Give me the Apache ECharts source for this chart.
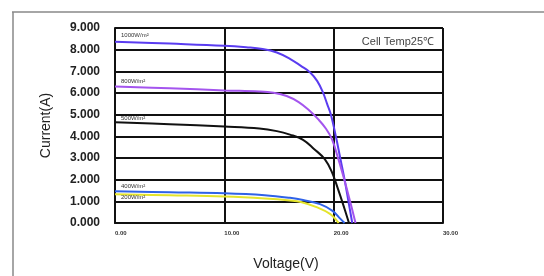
<!DOCTYPE html>
<html>
<head>
<meta charset="utf-8">
<script src="https://cdn.jsdelivr.net/npm/echarts@6/dist/echarts.min.js"></script>
<style>html,body{margin:0;padding:0;background:#fff;}#c{width:544px;height:276px;}</style>
</head>
<body>
<div id="c"></div>
<script>
// Voltage (V) / Current (A)
const v1000 = [0, 5, 10, 12, 13.5, 14.8, 16.0, 17.0, 17.85, 18.5, 19.0, 19.4, 19.75, 20.2, 20.6, 21.0, 21.35, 21.7];
const i1000 = [8.37, 8.28, 8.18, 8.11, 8.03, 7.87, 7.58, 7.25, 6.95, 6.55, 6.05, 5.5, 5.0, 4.0, 3.0, 2.0, 1.0, 0];
const v800 = [0, 5, 10, 13.2, 14.5, 15.7, 16.8, 17.8, 18.6, 19.3, 19.85, 20.4, 21.0, 21.5, 22.0];
const i800 = [6.30, 6.22, 6.12, 6.07, 6.01, 5.86, 5.58, 5.18, 4.78, 4.35, 3.86, 3.0, 1.95, 1.0, 0];
const v500 = [0, 5, 10, 13.2, 14.8, 16.0, 17.2, 18.2, 19.2, 19.85, 20.4, 20.9, 21.4];
const i500 = [4.65, 4.56, 4.45, 4.36, 4.24, 4.08, 3.84, 3.42, 2.94, 2.34, 1.56, 0.8, 0];
const v400 = [0, 5, 10, 13.7, 16.0, 17.2, 18.75, 19.9, 20.6, 21.0];
const i400 = [1.47, 1.42, 1.37, 1.28, 1.16, 1.06, 0.87, 0.56, 0.2, 0];
const v200 = [0, 5, 10, 13.7, 16.0, 17.0, 18.5, 19.7, 20.3, 20.45];
const i200 = [1.33, 1.28, 1.22, 1.13, 1.04, 0.97, 0.72, 0.41, 0.1, 0];

const seriesNames = ['1000W/m²', '800W/m²', '500W/m²', '400W/m²', '200W/m²'];
const seriesColors = ['#5a3cf0', '#a455ee', '#111111', '#2f62e8', '#e4e42c'];
const labelDy = [-6, -5, -4, -5, 3];
const xTicks = ['0.00', '10.00', '20.00', '30.00'];
const yTicks = ['0.000', '1.000', '2.000', '3.000', '4.000', '5.000', '6.000', '7.000', '8.000', '9.000'];

const volts = [v1000, v800, v500, v400, v200];
const amps = [i1000, i800, i500, i400, i200];

const series = volts.map((vs, k) => ({
  type: 'line',
  name: seriesNames[k],
  smooth: 0.4,
  showSymbol: true,
  symbol: 'circle',
  symbolSize: 0,
  lineStyle: { color: seriesColors[k], width: 2 },
  itemStyle: { color: seriesColors[k] },
  z: 5,
  data: vs.map((v, j) => j === 0 ? {
    value: [v, amps[k][j]],
    label: {
      show: true, position: 'right', distance: 6, offset: [0, labelDy[k]],
      formatter: seriesNames[k], fontSize: 6, color: '#333', fontFamily: 'Liberation Sans'
    }
  } : [v, amps[k][j]])
}));

const chart = echarts.init(document.getElementById('c'), null, { renderer: 'canvas' });
chart.setOption({
  animation: false,
  backgroundColor: '#ffffff',
  title: {
    text: 'Cell Temp25℃', right: 105, top: 31,
    textStyle: { fontSize: 11, fontWeight: 'normal', color: '#444', fontFamily: 'Liberation Sans' }
  },
  grid: { left: 115, right: 101, top: 28, bottom: 52 },
  xAxis: {
    type: 'value', min: 0, max: 30, interval: 10,
    name: 'Voltage(V)', nameLocation: 'middle', nameGap: 34,
    nameTextStyle: { fontSize: 14, color: '#222', fontFamily: 'Liberation Sans', padding: [0, 0, 0, 14] },
    axisLine: { show: true, lineStyle: { color: '#111', width: 2 } },
    axisTick: { show: false },
    axisLabel: {
      fontSize: 6, fontWeight: 'bold', color: '#333', margin: 7, align: 'left', fontFamily: 'Liberation Sans',
      formatter: (v) => xTicks[Math.round(v / 10)]
    },
    splitLine: { show: true, lineStyle: { color: '#111', width: 2 } }
  },
  yAxis: {
    type: 'value', min: 0, max: 9, interval: 1,
    name: 'Current(A)', nameLocation: 'middle', nameGap: 62,
    nameTextStyle: { fontSize: 14, color: '#222', fontFamily: 'Liberation Sans' },
    axisLine: { show: true, lineStyle: { color: '#111', width: 2 } },
    axisTick: { show: false },
    axisLabel: {
      fontSize: 12, fontWeight: 'bold', color: '#222', margin: 15, fontFamily: 'Liberation Sans',
      formatter: (v) => yTicks[Math.round(v)]
    },
    splitLine: { show: true, lineStyle: { color: '#111', width: 2 } }
  },
  graphic: [
    { type: 'line', shape: { x1: 12, y1: 12, x2: 544, y2: 12 }, style: { stroke: '#888', lineWidth: 1.5 } },
    { type: 'line', shape: { x1: 13, y1: 12, x2: 13, y2: 276 }, style: { stroke: '#888', lineWidth: 1.5 } }
  ],
  series: series
});
</script>
</body>
</html>
